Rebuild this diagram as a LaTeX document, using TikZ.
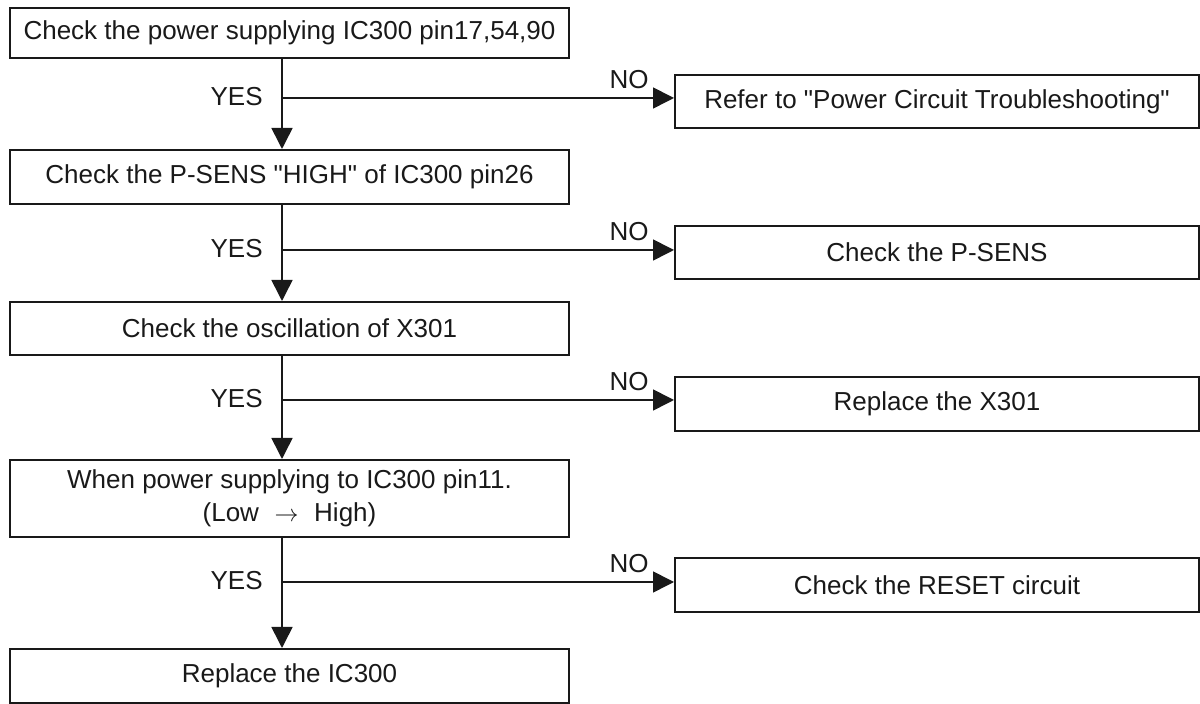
\documentclass[tikz,border=0pt]{standalone}
\usepackage{fontspec}
\setmainfont{Liberation Sans}
\usetikzlibrary{arrows.meta,calc}
\begin{document}
\begin{tikzpicture}[x=0.5pt,y=-0.5pt,
  box/.style={draw=black!90, line width=1pt, inner sep=0pt, align=center,
    font=\fontsize{13}{16.5}\selectfont, text=black!90},
  leftbox/.style={box, minimum width=279.5pt},
  rightbox/.style={box, minimum width=262pt, minimum height=26.75pt},
  lbl/.style={inner sep=0pt, font=\fontsize{13}{16}\selectfont, text=black!90},
  flow/.style={draw=black!90, line width=0.8pt, -{Triangle[length=10.5pt,width=10.5pt]}},
  ]
\useasboundingbox (0,0) rectangle (1200,704);
% left column
\node[leftbox, minimum height=24.75pt] (b1) at (289.5,33) {Check the power supplying IC300 pin17,54,90};
\node[leftbox, minimum height=27pt] (b2) at (289.5,177) {Check the P-SENS \textquotedbl HIGH\textquotedbl\ of IC300 pin26};
\node[leftbox, minimum height=26.5pt] (b3) at (289.5,328.5) {Check the oscillation of X301};
\node[leftbox, minimum height=38.5pt] (b4) at (289.5,498.5) {When power supplying to IC300 pin11.\\(Low\hspace{0.6em}$\rightarrow$\hspace{0.6em}High)};
\node[leftbox, minimum height=27pt] (b5) at (289.5,676) {Replace the IC300};
% right column
\node[rightbox] (r1) at (937,101.5) {Refer to \textquotedbl Power Circuit Troubleshooting\textquotedbl};
\node[rightbox] (r2) at (937,252.5) {Check the P-SENS};
\node[rightbox] (r3) at (937,404) {Replace the X301};
\node[rightbox] (r4) at (937,585) {Check the RESET circuit};
% trunk column and junctions
\coordinate (col) at (282,0);
\coordinate (j1) at (282,98);
\coordinate (j2) at (282,250);
\coordinate (j3) at (282,400);
\coordinate (j4) at (282,582);
% YES arrows
\draw[flow] (b1.south -| col) -- (b2.north -| col);
\draw[flow] (b2.south -| col) -- (b3.north -| col);
\draw[flow] (b3.south -| col) -- (b4.north -| col);
\draw[flow] (b4.south -| col) -- (b5.north -| col);
% NO arrows
\foreach \j/\r in {j1/r1, j2/r2, j3/r3, j4/r4}{
  \draw[flow] (\j) -- (\j -| \r.west);
  \node[lbl, anchor=base east] at ($(\j)+(-19,8)$) {YES};
  \node[lbl, anchor=base east] at ($(\j -| \r.west)+(-25,-9)$) {NO};
}
\end{tikzpicture}
\end{document}
